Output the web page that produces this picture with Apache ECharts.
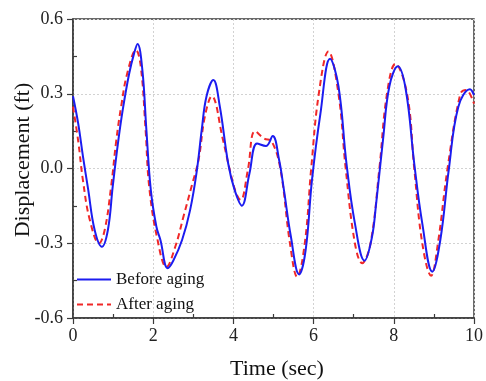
<!DOCTYPE html>
<html>
<head>
<meta charset="utf-8">
<script src="https://cdn.jsdelivr.net/npm/echarts@6/dist/echarts.min.js"></script>
<style>
html,body{margin:0;padding:0;background:#fff;}
#chart{width:486px;height:381px;}
</style>
</head>
<body>
<div id="chart"></div>
<script>
// Time (sec) and displacement (ft)
var beforeTime = [0,0.13,0.25,0.38,0.54,0.72,0.87,0.99,1.12,1.24,1.40,1.52,1.61,1.73,1.83,1.94,2.08,2.18,2.36,2.50,2.72,2.92,3.09,3.21,3.33,3.50,3.66,3.87,4.03,4.21,4.40,4.59,4.81,4.98,5.14,5.26,5.43,5.64,5.80,5.96,6.17,6.41,6.62,6.82,7.03,7.27,7.45,7.56,7.73,7.89,8.10,8.30,8.51,8.71,8.96,9.16,9.37,9.61,9.90,10];
var beforeDisp = [0.29,0.18,0.047,-0.086,-0.247,-0.314,-0.247,-0.073,0.10,0.235,0.38,0.46,0.50,0.395,0.155,-0.086,-0.234,-0.287,-0.40,-0.37,-0.287,-0.167,-0.006,0.155,0.29,0.355,0.25,0.02,-0.086,-0.149,-0.02,0.10,0.09,0.13,0.034,-0.086,-0.27,-0.425,-0.33,-0.046,0.22,0.44,0.33,0.02,-0.22,-0.37,-0.28,-0.14,0.114,0.33,0.41,0.315,0.02,-0.22,-0.414,-0.287,-0.006,0.248,0.318,0.295];
var afterTime = [0,0.13,0.25,0.42,0.65,0.79,0.95,1.08,1.20,1.35,1.57,1.69,1.81,1.90,2.10,2.33,2.55,2.76,2.96,3.13,3.29,3.46,3.74,3.91,4.07,4.18,4.36,4.54,4.77,4.95,5.17,5.41,5.59,5.78,5.94,6.13,6.37,6.62,6.80,7.03,7.21,7.42,7.64,7.83,8.04,8.33,8.51,8.71,8.93,9.10,9.34,9.66,9.80,10];
var afterDisp = [0.248,0.11,-0.05,-0.207,-0.30,-0.247,-0.073,0.114,0.248,0.38,0.475,0.41,0.155,-0.073,-0.28,-0.395,-0.314,-0.19,-0.07,0.034,0.21,0.29,0.115,-0.006,-0.10,-0.126,-0.006,0.15,0.12,0.11,0,-0.3,-0.435,-0.3,0,0.3,0.47,0.3,0,-0.3,-0.38,-0.3,0,0.3,0.42,0.3,0,-0.3,-0.43,-0.3,0,0.3,0.315,0.26];
var xTicks = [0,2,4,6,8,10];
var xMinorTicks = [1,3,5,7,9];
var yTicks = [-0.6,-0.3,0.0,0.3,0.6];
var yMinorTicks = [-0.45,-0.15,0.15,0.45];
var seriesNames = ['Before aging','After aging'];
var xTitle = 'Time (sec)';
var yTitle = 'Displacement (ft)';

function pairs(t, v){ var out=[]; for(var i=0;i<t.length;i++){ out.push([t[i], v[i]]); } return out; }

var FONT = '"Liberation Serif","Times New Roman",serif';
var chart = echarts.init(document.getElementById('chart'), null, {renderer:'canvas'});
var axisCol = '#3a3a3a';
chart.setOption({
  animation:false,
  backgroundColor:'#fff',
  grid:{left:73, right:7, top:19, bottom:63, show:true, borderColor:axisCol, borderWidth:1.5, backgroundColor:'transparent'},
  legend:{
    orient:'vertical', left:71, top:266, padding:5, itemGap:8,
    itemWidth:34, itemHeight:14,
    itemStyle:{opacity:0},
    textStyle:{fontFamily:FONT, fontSize:17, color:'#111'},
    data:seriesNames
  },
  xAxis:[{
    type:'value', min:0, max:10, interval:2,
    axisLine:{show:true, onZero:false, lineStyle:{color:axisCol, width:1.5}},
    axisTick:{show:true, inside:false, length:6, lineStyle:{color:axisCol, width:1.2}},
    axisLabel:{margin:9, fontFamily:FONT, fontSize:18, color:'#222', formatter:function(v){return xTicks.indexOf(v)>=0? String(v):'';}},
    splitLine:{show:true, lineStyle:{color:'#d2d2d2', type:[2,2], width:1}}
  },{
    type:'value', min:0, max:10, interval:1, position:'bottom',
    axisLine:{show:false, onZero:false},
    axisTick:{show:true, inside:true, length:4, customValues:xMinorTicks, lineStyle:{color:axisCol, width:1.2}},
    axisLabel:{show:false},
    splitLine:{show:false}
  }],
  yAxis:[{
    type:'value', min:-0.6, max:0.6, interval:0.3,
    axisLine:{show:true, onZero:false, lineStyle:{color:axisCol, width:1.5}},
    axisTick:{show:true, inside:false, length:6, lineStyle:{color:axisCol, width:1.2}},
    axisLabel:{margin:10, fontFamily:FONT, fontSize:18, color:'#222', formatter:function(v){return v.toFixed(1);}},
    splitLine:{show:true, lineStyle:{color:'#d2d2d2', type:[2,2], width:1}}
  },{
    type:'value', min:-0.6, max:0.6, interval:0.15, position:'left',
    axisLine:{show:false, onZero:false},
    axisTick:{show:true, inside:true, length:4, customValues:yMinorTicks, lineStyle:{color:axisCol, width:1.2}},
    axisLabel:{show:false},
    splitLine:{show:false}
  }],
  graphic:[
    {type:'text', x:277, y:369, style:{text:xTitle, font:'22px '+FONT, fill:'#111', textAlign:'center', textVerticalAlign:'middle'}},
    {type:'text', x:23, y:160, rotation:Math.PI/2, style:{text:yTitle, font:'22px '+FONT, fill:'#111', textAlign:'center', textVerticalAlign:'middle'}}
  ],
  series:[{
    name:seriesNames[0], type:'line', xAxisIndex:0, yAxisIndex:0,
    data:pairs(beforeTime, beforeDisp), smooth:0.4, symbol:'none', z:3,
    lineStyle:{color:'#1c1cf0', width:2}, itemStyle:{color:'#1c1cf0'}
  },{
    name:seriesNames[1], type:'line', xAxisIndex:0, yAxisIndex:0,
    data:pairs(afterTime, afterDisp), smooth:0.4, symbol:'none', z:2,
    lineStyle:{color:'#f02828', width:2, type:[6,4]}, itemStyle:{color:'#f02828'}
  }]
});
</script>
</body>
</html>
